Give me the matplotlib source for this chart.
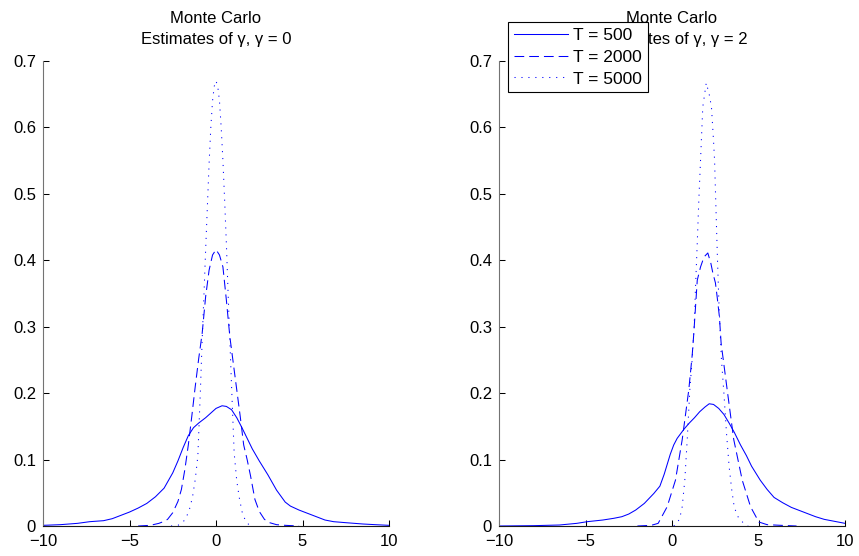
import numpy as np
import matplotlib.pyplot as plt
import matplotlib as mpl

# ---- density estimates ----
# gamma = 0 panel
x0_t500 = [-10, -9, -8, -7.3, -6.5, -6.0, -5.5, -5.0, -4.5, -4.0, -3.5, -3.0,
           -2.5, -2.2, -1.9, -1.6, -1.3, -1.0, -0.6, -0.3, 0.0, 0.35, 0.6,
           0.9, 1.2, 1.5, 1.8, 2.1, 2.5, 3.0, 3.5, 4.0, 4.3, 4.8, 5.3, 5.8,
           6.3, 6.8, 7.5, 8.5, 9.2, 10]
y0_t500 = [0.001, 0.002, 0.004, 0.0065, 0.008, 0.011, 0.016, 0.021, 0.027,
           0.034, 0.044, 0.057, 0.080, 0.098, 0.118, 0.136, 0.148, 0.155,
           0.163, 0.170, 0.177, 0.181, 0.180, 0.175, 0.163, 0.148, 0.132,
           0.116, 0.098, 0.077, 0.054, 0.036, 0.030, 0.024, 0.019, 0.014,
           0.009, 0.0065, 0.005, 0.003, 0.002, 0.001]

x0_t2000 = [-4.5, -3.8, -3.3, -3.0, -2.8, -2.5, -2.2, -2.0, -1.8, -1.6, -1.4,
            -1.2, -1.0, -0.8, -0.6, -0.4, -0.2, 0.0, 0.2, 0.4, 0.6, 0.8, 1.0,
            1.2, 1.4, 1.6, 1.8, 2.0, 2.25, 2.5, 2.8, 3.1, 3.5, 4.0, 4.8]
y0_t2000 = [0.0, 0.001, 0.004, 0.007, 0.010, 0.020, 0.037, 0.055, 0.085,
            0.122, 0.165, 0.210, 0.252, 0.290, 0.345, 0.385, 0.408, 0.416,
            0.408, 0.390, 0.340, 0.285, 0.245, 0.205, 0.165, 0.122, 0.100,
            0.075, 0.040, 0.022, 0.010, 0.005, 0.002, 0.001, 0.0]

x0_t5000 = [-2.6, -2.2, -1.9, -1.7, -1.5, -1.35, -1.2, -1.05, -0.9, -0.8,
            -0.7, -0.6, -0.5, -0.4, -0.3, -0.2, -0.1, 0.0, 0.1, 0.2, 0.3,
            0.4, 0.5, 0.6, 0.7, 0.8, 0.9, 1.05, 1.2, 1.35, 1.5, 1.7, 1.9, 2.1]
y0_t5000 = [0.0, 0.001, 0.006, 0.014, 0.028, 0.045, 0.070, 0.105, 0.205,
            0.280, 0.345, 0.415, 0.480, 0.545, 0.600, 0.640, 0.662, 0.670,
            0.662, 0.640, 0.600, 0.550, 0.490, 0.425, 0.350, 0.280, 0.210,
            0.110, 0.068, 0.042, 0.022, 0.008, 0.002, 0.0]

# gamma = 2 panel
x2_t500 = [-10, -8, -6.5, -5.5, -4.9, -4.0, -3.36, -2.9, -2.5, -2.1, -1.6,
           -1.05, -0.7, -0.45, -0.1, 0.1, 0.3, 0.7, 1.0, 1.3, 1.6, 1.9, 2.15,
           2.4, 2.7, 3.0, 3.3, 3.6, 3.96, 4.3, 4.6, 5.1, 5.5, 5.9, 6.4, 6.9,
           7.4, 7.8, 8.3, 8.8, 9.4, 10]
y2_t500 = [0.0, 0.0005, 0.0015, 0.004, 0.0065, 0.009, 0.0116, 0.014, 0.018,
           0.024, 0.034, 0.049, 0.060, 0.078, 0.108, 0.122, 0.132, 0.146,
           0.155, 0.163, 0.172, 0.179, 0.184, 0.183, 0.177, 0.168, 0.155,
           0.141, 0.122, 0.106, 0.090, 0.069, 0.055, 0.043, 0.035, 0.028,
           0.023, 0.019, 0.014, 0.010, 0.007, 0.004]

x2_t2000 = [-2.0, -1.2, -0.8, -0.28, 0.2, 0.59, 0.97, 1.17, 1.26, 1.36, 1.46,
            1.65, 1.85, 2.07, 2.25, 2.36, 2.51, 2.61, 2.74, 2.84, 3.19, 3.57,
            4.06, 4.54, 5.02, 5.5, 6.3, 7.2]
y2_t2000 = [0.0, 0.001, 0.004, 0.029, 0.069, 0.130, 0.205, 0.258, 0.290,
            0.330, 0.370, 0.390, 0.405, 0.411, 0.395, 0.381, 0.366, 0.345,
            0.315, 0.275, 0.205, 0.130, 0.069, 0.029, 0.006, 0.002, 0.001, 0.0]

x2_t5000 = [0.1, 0.3, 0.45, 0.59, 0.74, 0.88, 1.03, 1.15, 1.28, 1.36, 1.46,
            1.55, 1.65, 1.78, 1.98, 2.15, 2.28, 2.40, 2.46, 2.55, 2.63, 2.72,
            2.86, 3.0, 3.15, 3.3, 3.45, 3.6, 3.85, 4.15, 4.4]
y2_t5000 = [0.0, 0.004, 0.012, 0.029, 0.069, 0.130, 0.205, 0.245, 0.300,
            0.360, 0.426, 0.490, 0.551, 0.631, 0.667, 0.650, 0.631, 0.580,
            0.551, 0.470, 0.400, 0.330, 0.250, 0.200, 0.140, 0.090, 0.055,
            0.028, 0.012, 0.004, 0.0]

labels = ['T = 500', 'T = 2000', 'T = 5000']
gammas = [0, 2]
xticks = [-10, -5, 0, 5, 10]
yticks = [0, 0.1, 0.2, 0.3, 0.4, 0.5, 0.6, 0.7]
ytick_labels = ['0', '0.1', '0.2', '0.3', '0.4', '0.5', '0.6', '0.7']

plt.rcParams['font.family'] = ['Liberation Sans', 'DejaVu Sans']
plt.rcParams['lines.scale_dashes'] = False

blue = '#0000ff'
styles = ['-', (0, (7, 3.6)), (0, (0.8, 4.2))]


def plot_panel(ax, curves, gamma):
    lines = []
    for (xs, ys), ls, lab in zip(curves, styles, labels):
        ln, = ax.plot(xs, ys, color=blue, lw=0.75, ls=ls, label=lab)
        lines.append(ln)

    ax.set_xlim(-10, 10)
    ax.set_ylim(0, 0.7)
    ax.set_xticks(xticks)
    ax.set_yticks(yticks)
    ax.set_yticklabels(ytick_labels)
    ax.tick_params(direction='in', length=4, width=0.75, labelsize=12)
    ax.tick_params(axis='x', pad=6)
    ax.tick_params(axis='y', pad=5)

    ax.spines['top'].set_visible(False)
    ax.spines['right'].set_visible(False)
    ax.spines['left'].set_color('0.45')
    ax.spines['bottom'].set_color('0.1')
    ax.spines['left'].set_linewidth(0.8)
    ax.spines['bottom'].set_linewidth(0.8)

    ax.set_title(f"Monte Carlo\nEstimates of γ, γ = {gamma}",
                 fontsize=12, linespacing=1.5, pad=12)
    return lines


fig = plt.figure(figsize=(8.59, 5.56), dpi=100, facecolor='w')
ax1 = fig.add_axes([43 / 859, 30 / 556, 346 / 859, 465 / 556])
ax2 = fig.add_axes([499 / 859, 30 / 556, 346 / 859, 465 / 556])

plot_panel(ax1, [(x0_t500, y0_t500), (x0_t2000, y0_t2000),
                 (x0_t5000, y0_t5000)], gammas[0])
lines = plot_panel(ax2, [(x2_t500, y2_t500), (x2_t2000, y2_t2000),
                         (x2_t5000, y2_t5000)], gammas[1])

leg = ax2.legend(handles=lines, loc='upper left',
                 bbox_to_anchor=(508 / 859, 1 - 22 / 556),
                 bbox_transform=fig.transFigure, borderaxespad=0,
                 fontsize=12.5, fancybox=False, framealpha=1,
                 edgecolor='k', handlelength=3.1, handletextpad=0.3,
                 labelspacing=0.38, borderpad=0.34)
leg.get_frame().set_linewidth(0.8)

plt.savefig('out.png', dpi=100, facecolor='w')
